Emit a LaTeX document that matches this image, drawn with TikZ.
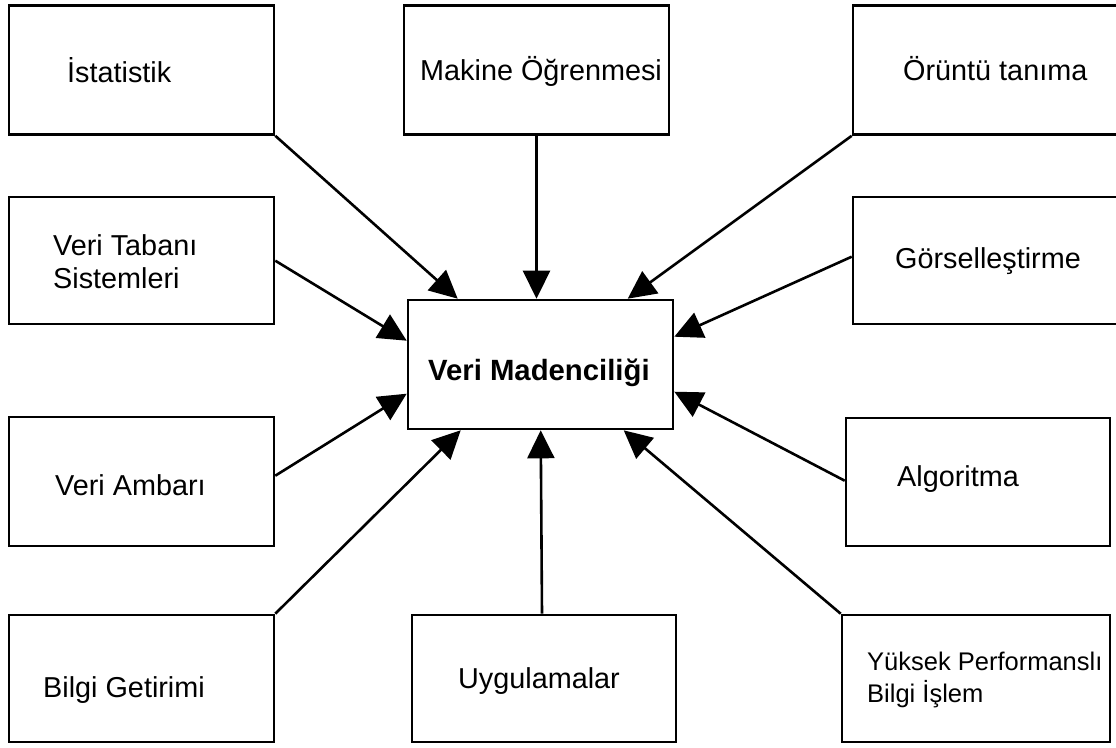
\documentclass[tikz,border=0pt]{standalone}
\usepackage{fontspec}
\setmainfont{Liberation Sans}
\usetikzlibrary{arrows.meta,calc}
\begin{document}
\begin{tikzpicture}[x=1pt,y=-1pt,
  boxst/.style={draw=black,line width=2.6pt,fill=none,inner sep=0pt,minimum width=265pt,minimum height=129pt},
  lbl/.style={inner sep=0pt,anchor=base west,font=\fontsize{28.8}{33}\selectfont},
  conn/.style={draw=black,line width=2.6pt,-{Triangle[length=28pt,width=27pt]}}]
\useasboundingbox[fill=white] (0,0) rectangle (1116,747);
% boxes
\node[boxst] (ist) at (141.5,70) {};
\node[boxst] (mak) at (536.5,70) {};
\node[boxst,minimum width=280pt] (oru) at (993,70) {};
\node[boxst,minimum height=127pt] (vts) at (141.5,260.5) {};
\node[boxst,minimum width=280pt,minimum height=127pt] (gor) at (993,260.5) {};
\node[boxst] (vm) at (540.5,364.5) {};
\node[boxst] (amb) at (141.5,481.5) {};
\node[boxst,minimum width=264pt,minimum height=128pt] (alg) at (978,482) {};
\node[boxst,minimum height=127pt] (bil) at (141.5,678.5) {};
\node[boxst,minimum width=264pt,minimum height=127pt] (uyg) at (544,678.5) {};
\node[boxst,minimum width=268pt,minimum height=127pt] (yuk) at (976,678.5) {};
% labels
\node[lbl] (tist) at (67,82) {İstatistik};
\node[lbl] (tmak) at (420,80) {Makine Öğrenmesi};
\node[lbl] (toru) at (903,80) {Örüntü tanıma};
\node[lbl] (tvts) at (53,255) {\begin{tabular}[t]{@{}l@{}}Veri Tabanı\\Sistemleri\end{tabular}};
\node[lbl] (tgor) at (895,268) {Görselleştirme};
\node[lbl,font=\fontsize{29.3}{33}\selectfont\bfseries] (tvm) at (428,380) {Veri Madenciliği};
\node[lbl] (tamb) at (55,495) {Veri Ambarı};
\node[lbl] (talg) at (897,486) {Algoritma};
\node[lbl] (tbil) at (43,697) {Bilgi Getirimi};
\node[lbl] (tuyg) at (458,688) {Uygulamalar};
\node[lbl,font=\fontsize{25.5}{32}\selectfont] (tyuk) at (867,670) {\begin{tabular}[t]{@{}l@{}}Yüksek Performanslı\\Bilgi İşlem\end{tabular}};
% connectors
\draw[conn] (ist.south east) -- ($(vm.north west)+(51,0)$);
\draw[conn] (mak.south) -- (mak.south |- vm.north);
\draw[conn] (oru.south west) -- ($(vm.north west)+(221,0)$);
\draw[conn] ($(vts.north east)+(0,65)$) -- ($(vm.north west)+(0,42)$);
\draw[conn] ($(gor.north west)+(0,61)$) -- ($(vm.north east)+(0,38)$);
\draw[conn] ($(amb.north east)+(0,60)$) -- ($(vm.north west)+(0,95)$);
\draw[conn] ($(alg.north west)+(0,64)$) -- ($(vm.north east)+(0,93)$);
\draw[conn] (bil.north east) -- ($(vm.south west)+(54,0)$);
\draw[conn] ($(uyg.north)+(-2,0)$) -- ($(vm.south west)+(134,0)$);
\draw[conn] (yuk.north west) -- ($(vm.south west)+(217,0)$);
\end{tikzpicture}
\end{document}
